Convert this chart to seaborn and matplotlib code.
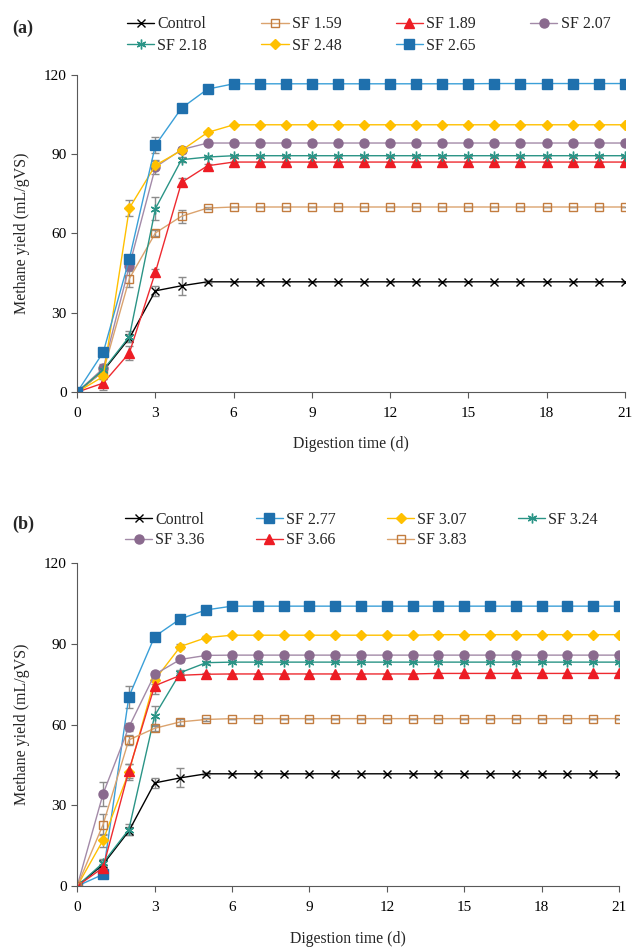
import numpy as np
import pandas as pd
import seaborn as sns
from matplotlib import pyplot as plt

days = list(range(22))

# Panel (a) - cumulative methane yield
names_a = ['Control', 'SF 1.59', 'SF 1.89', 'SF 2.07', 'SF 2.18', 'SF 2.48', 'SF 2.65']
control = [0, 8.0, 20.4, 38.3, 40.2, 41.7] + [41.7] * 16
sf159 = [0, 7.8, 42.9, 60.2, 66.5, 69.6] + [70.0] * 16
sf189 = [0, 3.4, 14.8, 45.4, 79.3, 85.6] + [87.0] * 16
sf207 = [0, 9.0, 47.8, 85.1, 91.7, 94.2] + [94.2] * 16
sf218 = [0, 8.4, 21.0, 69.4, 87.9, 88.9] + [89.4] * 16
sf248 = [0, 5.9, 69.6, 85.8, 91.4, 98.2] + [101.1] * 16
sf265 = [0, 15.1, 50.4, 93.4, 107.4, 114.6] + [116.6] * 10 + [116.7] * 6
err_control = [0, 1.5, 1.5, 2.0, 3.5, 0.5] + [0] * 16
err_sf159 = [0, 3.0, 3.0, 1.0, 2.5, 0.5] + [0] * 16
err_sf189 = [0, 2.5, 2.5, 1.0, 1.5, 0.5] + [0] * 16
err_sf207 = [0, 1.0, 1.5, 2.5, 1.0, 0.5] + [0] * 16
err_sf218 = [0, 1.0, 2.0, 4.5, 1.0, 0.5] + [0] * 16
err_sf248 = [0, 1.0, 3.0, 1.5, 1.0, 0.5] + [0] * 16
err_sf265 = [0, 1.5, 1.0, 3.0, 1.0, 0.5] + [0] * 16

# Panel (b)
names_b = ['Control', 'SF 2.77', 'SF 3.07', 'SF 3.24', 'SF 3.36', 'SF 3.66', 'SF 3.83']
sf277 = [0, 4.3, 70.3, 92.7, 99.3, 102.6] + [104.0] * 16
sf307 = [0, 17.0, 42.3, 76.5, 89.0, 92.3] + [93.2] * 8 + [93.4] * 8
sf324 = [0, 8.6, 21.0, 63.3, 79.3, 83.0] + [83.2] * 16
sf336 = [0, 34.2, 59.0, 78.6, 84.2, 85.7] + [85.8] * 16
sf366 = [0, 6.8, 42.8, 74.4, 78.3, 78.7] + [78.8] * 8 + [79.0] * 8
sf383 = [0, 22.8, 54.3, 58.6, 61.0, 61.9] + [62.2] * 16
err_control_b = [0, 1.5, 1.5, 2.0, 3.5, 0.5] + [0] * 16
err_sf277 = [0, 1.0, 4.0, 1.5, 1.0, 0.5] + [0] * 16
err_sf307 = [0, 2.5, 3.0, 1.5, 1.0, 0.5] + [0] * 16
err_sf324 = [0, 1.5, 2.0, 3.5, 1.0, 0.5] + [0] * 16
err_sf336 = [0, 4.5, 1.5, 1.0, 1.0, 0.5] + [0] * 16
err_sf366 = [0, 1.5, 2.5, 3.0, 1.0, 0.5] + [0] * 16
err_sf383 = [0, 4.0, 2.0, 1.0, 1.0, 0.5] + [0] * 16

styles = {
    'Control': dict(color='#000000', mfc='#000000', mec='#000000', marker='x', ms=5.5),
    'SF 1.59': dict(color='#DBA36E', mfc='none', mec='#C27C3F', marker='s', ms=6),
    'SF 1.89': dict(color='#EE2A30', mfc='#ED1C24', mec='#ED1C24', marker='^', ms=6.5),
    'SF 2.07': dict(color='#A38AA8', mfc='#8A6A8E', mec='#8A6A8E', marker='o', ms=6.5),
    'SF 2.18': dict(color='#2A9486', mfc='#2A9486', mec='#2A9486', marker=(6, 2, 0), ms=7),
    'SF 2.48': dict(color='#FFC000', mfc='#FFC000', mec='#FFC000', marker='D', ms=5.5),
    'SF 2.65': dict(color='#3A9FD8', mfc='#1F70AD', mec='#1F70AD', marker='s', ms=6.5),
}
styles['SF 2.77'] = styles['SF 2.65']
styles['SF 3.07'] = styles['SF 2.48']
styles['SF 3.24'] = styles['SF 2.18']
styles['SF 3.36'] = styles['SF 2.07']
styles['SF 3.66'] = styles['SF 1.89']
styles['SF 3.83'] = styles['SF 1.59']

sns.set_style('ticks')
plt.rcParams['font.family'] = ['Liberation Serif', 'DejaVu Serif']
plt.rcParams['font.size'] = 10.5

fig = plt.figure(figsize=(6.33, 9.47), dpi=100)
ax_a = fig.add_axes([0.122, 0.586, 0.865, 0.335])
ax_b = fig.add_axes([0.122, 0.0644, 0.856, 0.341])


def draw_panel(ax, names, series, errs, label, label_y, legend_x, legend_y,
               colspace, rowspace, xpad):
    handles = []
    for name, vals, err in zip(names, series, errs):
        st = styles[name]
        ax.errorbar(days, vals, yerr=err, fmt='none', ecolor='#8C8C8C',
                    elinewidth=1.0, capsize=3, capthick=1.0, zorder=1)
        df = pd.DataFrame({'day': days, 'value': vals})
        sns.lineplot(data=df, x='day', y='value', ax=ax, color=st['color'],
                     marker=st['marker'], markersize=st['ms'],
                     markerfacecolor=st['mfc'], markeredgecolor=st['mec'],
                     markeredgewidth=1.0, linewidth=1.0, label=name, zorder=2)
        handles.append(ax.get_lines()[-1])
    ax.get_legend().remove()
    ax.set_xlim(0, 21)
    ax.set_ylim(0, 120)
    ax.set_xticks(range(0, 22, 3))
    ax.set_yticks(range(0, 121, 30))
    ax.set_xlabel('Digestion time (d)', fontsize=11.3, labelpad=xpad)
    ax.set_ylabel('Methane yield (mL/gVS)', fontsize=11.5, labelpad=10)
    for s in ['left', 'bottom']:
        ax.spines[s].set_color('#595959')
    sns.despine(ax=ax)
    ax.tick_params(colors='#595959', labelcolor='black', length=4, labelsize=11)
    ax.tick_params(axis='x', pad=7)
    order = [0, 4, 1, 5, 2, 6, 3]
    fig.legend([handles[i] for i in order], [names[i] for i in order],
               loc='upper left', bbox_to_anchor=(legend_x, legend_y), ncol=4,
               frameon=False, handlelength=1.7, handletextpad=0.2,
               columnspacing=colspace, labelspacing=rowspace, fontsize=11.5,
               borderpad=0, borderaxespad=0)
    fig.text(0.019, label_y, label, fontsize=13, fontweight='bold', va='center')


draw_panel(ax_a, names_a,
           [control, sf159, sf189, sf207, sf218, sf248, sf265],
           [err_control, err_sf159, err_sf189, err_sf207, err_sf218, err_sf248, err_sf265],
           '(a)', 0.970, 0.2006, 0.983, 3.4, 0.35, 11)
draw_panel(ax_b, names_b,
           [control, sf277, sf307, sf324, sf336, sf366, sf383],
           [err_control_b, err_sf277, err_sf307, err_sf324, err_sf336, err_sf366, err_sf383],
           '(b)', 0.4467, 0.1975, 0.4594, 3.2, 0.28, 12)

fig.savefig('out.png', dpi=100)
